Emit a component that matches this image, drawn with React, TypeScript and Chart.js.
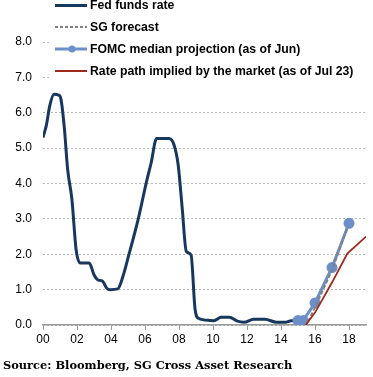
import React, { useEffect, useRef } from "react";
import { Chart, registerables } from "chart.js";

Chart.register(...registerables);

// Fed funds rate: years since 2000, value (%)
const fedYears = [0.0, 0.2, 0.4, 0.65, 0.92, 1.05, 1.25, 1.45, 1.7, 1.95, 2.2, 2.72, 3.0, 3.25, 3.48, 3.75, 3.95, 4.4, 4.73, 5.02, 5.59, 6.07, 6.36, 6.68, 7.41, 7.7, 7.95, 8.18, 8.43, 8.71, 8.94, 9.15, 9.8, 10.05, 10.48, 10.96, 11.43, 11.82, 12.39, 13.06, 13.73, 14.3, 14.6, 14.98];
const fedRates = [5.3, 5.65, 6.2, 6.52, 6.5, 6.4, 5.6, 4.4, 3.55, 2.12, 1.75, 1.75, 1.42, 1.27, 1.25, 1.04, 1.0, 1.02, 1.42, 1.93, 2.97, 4.01, 4.58, 5.27, 5.27, 5.1, 4.53, 3.35, 2.08, 1.98, 0.47, 0.19, 0.13, 0.12, 0.22, 0.22, 0.11, 0.08, 0.16, 0.16, 0.08, 0.08, 0.12, 0.12];

const sgYears = [15.6, 16, 17, 17.9];
const sgRates = [0.1, 0.5, 1.55, 2.75];

const fomcYears = [15.0, 15.3, 16, 17, 18];
const fomcRates = [0.125, 0.125, 0.625, 1.625, 2.875];

const mktYears = [15.45, 16, 17, 17.9, 19];
const mktRates = [0.0, 0.35, 1.2, 2.02, 2.5];

const xTickValues = [0, 2, 4, 6, 8, 10, 12, 14, 16, 18];
const xTickLabels = ["00", "02", "04", "06", "08", "10", "12", "14", "16", "18"];

const legendLabels = [
  "Fed funds rate",
  "SG forecast",
  "FOMC median projection (as of Jun)",
  "Rate path implied by the market (as of Jul 23)",
];
const sourceText = "Source: Bloomberg, SG Cross Asset Research";

const NAVY = "#17375e";
const GRAY = "#808080";
const BLUE = "#6d8fc9";
const RED = "#9e2a1c";

const pts = (xs: number[], ys: number[]) => xs.map((x, i) => ({ x, y: ys[i] }));

export default function App() {
  const ref = useRef<HTMLCanvasElement | null>(null);
  useEffect(() => {
    document.body.style.margin = "0";
    const canvas = ref.current!;
    const overlay = {
      id: "overlay",
      afterDraw(chart: any) {
        const ctx = chart.ctx as CanvasRenderingContext2D;
        ctx.save();
        ctx.fillStyle = "#fff";
        ctx.fillRect(50, 0, 323, 82);
        const rows = [5.5, 27, 49, 71];
        const x0 = 55, x1 = 87;
        ctx.lineCap = "butt";
        ctx.strokeStyle = NAVY; ctx.lineWidth = 3; ctx.setLineDash([]);
        ctx.beginPath(); ctx.moveTo(x0, rows[0]); ctx.lineTo(x1, rows[0]); ctx.stroke();
        ctx.strokeStyle = GRAY; ctx.lineWidth = 2; ctx.setLineDash([3, 2]);
        ctx.beginPath(); ctx.moveTo(x0, rows[1]); ctx.lineTo(x1, rows[1]); ctx.stroke();
        ctx.setLineDash([]);
        ctx.strokeStyle = BLUE; ctx.lineWidth = 3;
        ctx.beginPath(); ctx.moveTo(x0, rows[2]); ctx.lineTo(x1, rows[2]); ctx.stroke();
        ctx.fillStyle = BLUE; ctx.beginPath(); ctx.arc(72, rows[2], 3.5, 0, Math.PI * 2); ctx.fill();
        ctx.strokeStyle = RED; ctx.lineWidth = 2;
        ctx.beginPath(); ctx.moveTo(x0, rows[3]); ctx.lineTo(x1, rows[3]); ctx.stroke();
        ctx.fillStyle = "#000";
        ctx.font = "bold 12.25px 'Liberation Sans', Arial, sans-serif";
        ctx.textBaseline = "middle";
        ctx.textAlign = "left";
        legendLabels.forEach((t, i) => ctx.fillText(t, 90, rows[i] + 0.5));
        ctx.font = "bold 11.4px 'DejaVu Serif', serif";
        ctx.fillText(sourceText, 3, 366);
        ctx.restore();
      },
    };
    const chart = new Chart(canvas, {
      type: "line",
      data: {
        datasets: [
          {
            label: legendLabels[0], data: pts(fedYears, fedRates), borderColor: NAVY, borderWidth: 3,
            pointRadius: 0, cubicInterpolationMode: "monotone", order: 4,
          },
          {
            label: legendLabels[1], data: pts(sgYears, sgRates), borderColor: GRAY, borderWidth: 2,
            borderDash: [4, 2], pointRadius: 0, order: 2,
          },
          {
            label: legendLabels[2], data: pts(fomcYears, fomcRates), borderColor: BLUE, borderWidth: 3,
            pointRadius: 4, pointBackgroundColor: BLUE, pointBorderColor: BLUE, order: 3,
          },
          {
            label: legendLabels[3], data: pts(mktYears, mktRates), borderColor: RED, borderWidth: 1.8,
            pointRadius: 0, order: 1,
          },
        ],
      },
      options: {
        animation: false,
        responsive: false,
        layout: { padding: { top: 42, bottom: 32, right: 0, left: 0 } },
        plugins: { legend: { display: false }, tooltip: { enabled: false } },
        scales: {
          x: {
            type: "linear", min: 0, max: 19,
            afterBuildTicks: (s: any) => { s.ticks = xTickValues.map((v) => ({ value: v })); },
            afterFit: (s: any) => { s.height = 20; },
            ticks: {
              callback: (v: any) => xTickLabels[xTickValues.indexOf(Number(v))] ?? "",
              font: { size: 12, family: "'Liberation Sans', Arial, sans-serif" }, color: "#000",
              padding: 2, maxRotation: 0,
            },
            grid: { drawOnChartArea: false, drawTicks: true, tickLength: 5, color: "#999" },
            border: { display: true, color: "#999", width: 1.5 },
          },
          y: {
            min: 0, max: 8,
            afterFit: (s: any) => { s.width = 43; },
            ticks: {
              stepSize: 1, callback: (v: any) => Number(v).toFixed(1),
              font: { size: 12, family: "'Liberation Sans', Arial, sans-serif" }, color: "#000", padding: 11,
            },
            grid: { color: "#b8b8b8", lineWidth: 1, drawTicks: false },
            border: { display: false, dash: [2, 2] },
          },
        },
      },
      plugins: [overlay],
    });
    return () => chart.destroy();
  }, []);
  return <canvas ref={ref} width={373} height={377} style={{ display: "block" }} />;
}
